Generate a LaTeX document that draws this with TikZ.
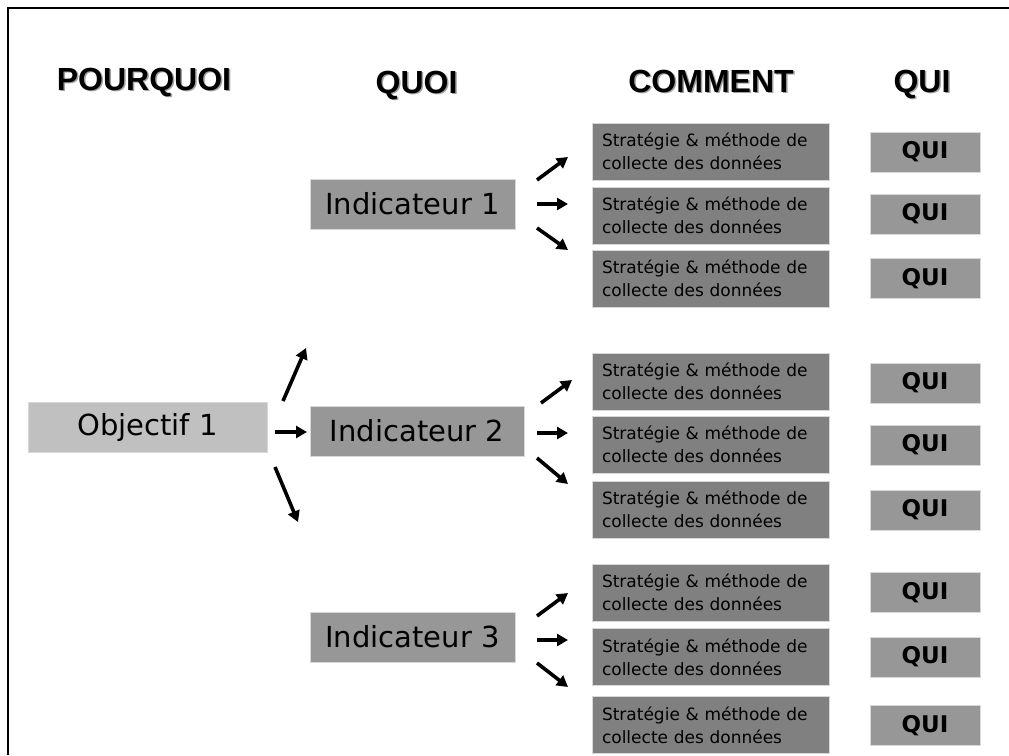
\documentclass[tikz,border=0pt]{standalone}
\usepackage{fontspec}
\setmainfont{DejaVu Sans}
\newfontfamily\headfont{Liberation Sans}
\usetikzlibrary{arrows.meta}
\definecolor{objgray}{HTML}{C0C0C0}
\definecolor{indgray}{HTML}{979797}
\definecolor{stratgray}{HTML}{808080}
\definecolor{boxedge}{HTML}{D8D8D8}
\definecolor{shadowgray}{HTML}{A0A0A0}
\begin{document}
\begin{tikzpicture}[x=1pt,y=-1pt,
  box/.style={draw=boxedge, line width=0.8pt, inner sep=0pt, anchor=center},
  objbox/.style={box, fill=objgray, minimum width=239pt, minimum height=50pt, font=\fontsize{29}{35}\selectfont},
  indbox/.style={box, fill=indgray, minimum height=50pt, font=\fontsize{29}{35}\selectfont},
  stratbox/.style={box, fill=stratgray, minimum width=237pt, minimum height=57pt, text width=217pt, align=left, font=\fontsize{17}{23}\selectfont},
  quibox/.style={box, fill=indgray, minimum width=110pt, minimum height=40pt, font=\bfseries\fontsize{23}{28}\selectfont},
  head/.style={anchor=base, inner sep=0pt, font=\headfont\bfseries\fontsize{32}{38}\selectfont},
  headshadow/.style={head, text=shadowgray},
  arr/.style={line width=3.6pt, -{Triangle[length=11pt,width=12pt]}},
  frame/.style={line width=2.5pt}
]
\useasboundingbox (0,0) rectangle (1009,755);
\draw[frame] (8,755) -- (8,8) -- (1009,8);

% headers (with soft shadow)
\node[headshadow] (hs1) at (145.5,91.5) {POURQUOI};
\node[head] (h1) at (144,90) {POURQUOI};
\node[headshadow] (hs2) at (418,94.5) {QUOI};
\node[head] (h2) at (416.5,93) {QUOI};
\node[headshadow] (hs3) at (712.5,93.5) {COMMENT};
\node[head] (h3) at (711,92) {COMMENT};
\node[headshadow] (hs4) at (923.5,93.5) {QUI};
\node[head] (h4) at (922,92) {QUI};

% objective
\node[objbox] (obj) at (147.5,427) {Objectif 1};

% indicators
\node[indbox, minimum width=205pt] (ind1) at (412.5,204) {Indicateur 1};
\node[indbox, minimum width=214pt] (ind2) at (417,431) {Indicateur 2};
\node[indbox, minimum width=205pt] (ind3) at (412.5,637) {Indicateur 3};

% strategy boxes and QUI boxes
\foreach \g/\a/\b/\c/\qa/\qb/\qc in {1/151.5/215.5/278.5/152/214/278.5,
                                      2/381.5/444.5/509.5/383/445/510,
                                      3/592.5/657/725/592.5/657/725.5}{
  \node[stratbox] (s\g a) at (710.5,\a) {Stratégie \& méthode de\\collecte des données};
  \node[stratbox] (s\g b) at (710.5,\b) {Stratégie \& méthode de\\collecte des données};
  \node[stratbox] (s\g c) at (710.5,\c) {Stratégie \& méthode de\\collecte des données};
  \node[quibox] (q\g a) at (925,\qa) {QUI};
  \node[quibox] (q\g b) at (925,\qb) {QUI};
  \node[quibox] (q\g c) at (925,\qc) {QUI};
}

% arrows from objective
\coordinate (ou1) at (283,401); \coordinate (ou2) at (306,348);
\coordinate (or1) at (275,432); \coordinate (or2) at (307,432);
\coordinate (od1) at (275,467); \coordinate (od2) at (298,522);
\draw[arr] (ou1) -- (ou2);
\draw[arr] (or1) -- (or2);
\draw[arr] (od1) -- (od2);

% arrows from indicators
\foreach \g/\u/\r/\d/\us/\ue/\ux in {1/180/204/228/157/250/537,
                                     2/403/433/458/380/484/541,
                                     3/616/640/663/593/687/537}{
  \coordinate (a\g u1) at (\ux,\u);
  \coordinate (a\g u2) at (\ux+31,\us);
  \coordinate (a\g r1) at (537,\r);
  \coordinate (a\g r2) at (568,\r);
  \coordinate (a\g d1) at (537,\d);
  \coordinate (a\g d2) at (568,\ue);
  \draw[arr] (a\g u1) -- (a\g u2);
  \draw[arr] (a\g r1) -- (a\g r2);
  \draw[arr] (a\g d1) -- (a\g d2);
}
\end{tikzpicture}
\end{document}
